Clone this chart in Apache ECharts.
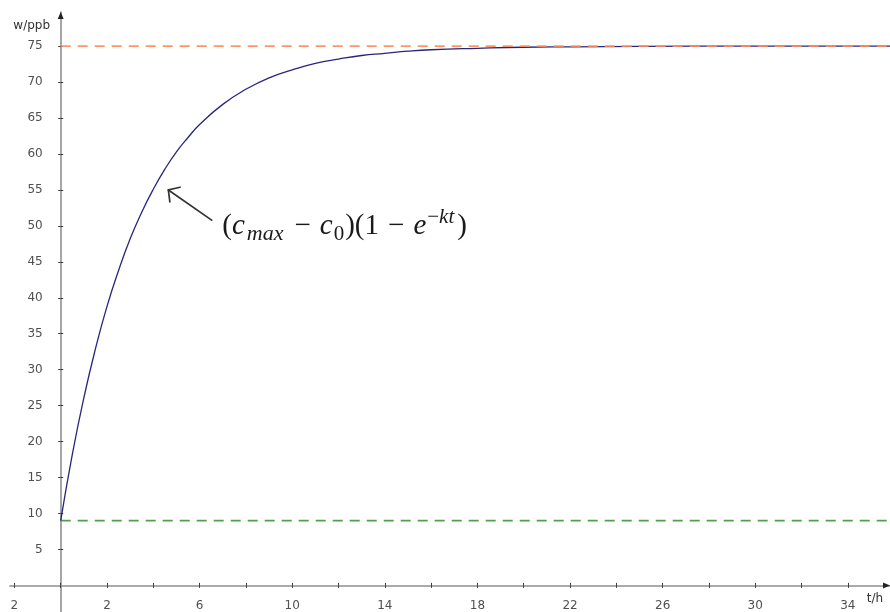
<!DOCTYPE html>
<html>
<head>
<meta charset="utf-8">
<script src="https://cdn.jsdelivr.net/npm/echarts@6/dist/echarts.min.js"></script>
<style>
  html, body { margin: 0; padding: 0; background: #ffffff; }
  #chart { width: 890px; height: 612px; }
</style>
</head>
<body>
<div id="chart"></div>
<script>
// ---- data ----
const tValues = [0, 0.5, 1, 1.5, 2, 2.5, 3, 3.5, 4, 4.5, 5, 5.5, 6, 7, 8, 9, 10, 11, 12, 13, 14, 15, 16, 18, 20, 22, 25, 30, 35.82];
const wValues = [9, 18.2, 26.1, 32.9, 38.8, 43.8, 48.2, 51.9, 55.1, 57.9, 60.3, 62.3, 64.1, 66.9, 69.0, 70.6, 71.7, 72.6, 73.2, 73.7, 74.0, 74.3, 74.5, 74.7, 74.85, 74.9, 74.96, 75, 75];
const cMax = 75;
const c0 = 9;
const xTickValues = [-2, 0, 2, 4, 6, 8, 10, 12, 14, 16, 18, 20, 22, 24, 26, 28, 30, 32, 34];
const xLabelValues = [-2, 2, 6, 10, 14, 18, 22, 26, 30, 34];
const xLabelTexts = ['2', '2', '6', '10', '14', '18', '22', '26', '30', '34'];
const yTickValues = [5, 10, 15, 20, 25, 30, 35, 40, 45, 50, 55, 60, 65, 70, 75];
const yLabelTexts = ['5', '10', '15', '20', '25', '30', '35', '40', '45', '50', '55', '60', '65', '70', '75'];
const xAxisName = 't/h';
const yAxisName = 'w/ppb';

// ---- view ranges ----
const X_MIN = -2.19, X_MAX = 35.82;
const Y_MIN = -3.70, Y_MAX = 79.75;

const chart = echarts.init(document.getElementById('chart'), null, { renderer: 'canvas' });

const AXIS_COLOR = '#8f8f8f';
const TICK_COLOR = '#3a3a3a';
const LABEL_FONT = '12px "DejaVu Sans"';
const LABEL_COLOR = '#505050';

function xAxisCfg(pos, main) {
  return {
    type: 'value', position: pos, min: X_MIN, max: X_MAX,
    axisLine: { show: main, onZero: true, lineStyle: { color: AXIS_COLOR, width: 1.6 } },
    axisTick: { show: true, inside: false, length: 2.5, customValues: xTickValues, lineStyle: { color: TICK_COLOR, width: 1 } },
    axisLabel: { show: false },
    splitLine: { show: false }
  };
}
function yAxisCfg(pos, main) {
  return {
    type: 'value', position: pos, min: Y_MIN, max: Y_MAX,
    axisLine: { show: main, onZero: true, lineStyle: { color: AXIS_COLOR, width: 1.6 } },
    axisTick: { show: true, inside: false, length: 2.5, customValues: yTickValues, lineStyle: { color: TICK_COLOR, width: 1 } },
    axisLabel: { show: false },
    splitLine: { show: false }
  };
}

const curveData = tValues.map((t, i) => [t, wValues[i]]);

chart.setOption({
  animation: false,
  backgroundColor: '#ffffff',
  grid: { left: 10, right: 0, top: 12, bottom: 0, containLabel: false, outerBoundsMode: 'none' },
  xAxis: [xAxisCfg('bottom', true), xAxisCfg('top', false)],
  yAxis: [yAxisCfg('left', true), yAxisCfg('right', false)],
  series: [
    {
      name: 'green', type: 'line', xAxisIndex: 0, yAxisIndex: 0,
      data: [[0, c0], [X_MAX, c0]], showSymbol: false, silent: true,
      lineStyle: { color: '#4f9f4f', width: 1.8, type: [10, 7] }, z: 2
    },
    {
      name: 'curve', type: 'line', xAxisIndex: 0, yAxisIndex: 0,
      data: curveData, smooth: 0.5, showSymbol: false, silent: true,
      lineStyle: { color: '#26267f', width: 1.3 }, z: 3
    },
    {
      name: 'orange', type: 'line', xAxisIndex: 0, yAxisIndex: 0,
      data: [[0, cMax], [X_MAX, cMax]], showSymbol: false, silent: true,
      lineStyle: { color: '#ff8a5c', width: 1.8, type: [10, 7], opacity: 0.9 }, z: 4
    }
  ]
});

// ---- overlay: tick labels, axis arrows, axis names, annotation ----
function px(pt) { return chart.convertToPixel({ xAxisIndex: 0, yAxisIndex: 0 }, pt); }

const graphics = [];
xLabelValues.forEach(function (v, i) {
  const p = px([v, 0]);
  graphics.push({ type: 'text', x: p[0], y: p[1] + 20, silent: true,
    style: { text: xLabelTexts[i], font: LABEL_FONT, fill: LABEL_COLOR, textAlign: 'center', textVerticalAlign: 'middle' }, z: 10 });
});
yTickValues.forEach(function (v, i) {
  const p = px([0, v]);
  graphics.push({ type: 'text', x: p[0] - 18, y: p[1], silent: true,
    style: { text: yLabelTexts[i], font: LABEL_FONT, fill: LABEL_COLOR, textAlign: 'right', textVerticalAlign: 'middle' }, z: 10 });
});

const xEnd = px([X_MAX, 0]);
graphics.push({ type: 'polygon', shape: { points: [[xEnd[0], xEnd[1]], [xEnd[0] - 7, xEnd[1] - 3], [xEnd[0] - 7, xEnd[1] + 3]] }, style: { fill: '#222' }, z: 10 });
const yEnd = px([0, Y_MAX]);
graphics.push({ type: 'polygon', shape: { points: [[yEnd[0], yEnd[1]], [yEnd[0] - 3, yEnd[1] + 7], [yEnd[0] + 3, yEnd[1] + 7]] }, style: { fill: '#222' }, z: 10 });
graphics.push({ type: 'text', x: yEnd[0] - 29, y: yEnd[1] + 14, style: { text: yAxisName, font: LABEL_FONT, fill: '#333', textAlign: 'center', textVerticalAlign: 'middle' }, z: 10 });
graphics.push({ type: 'text', x: xEnd[0] - 15, y: xEnd[1] + 13, style: { text: xAxisName, font: LABEL_FONT, fill: '#333', textAlign: 'center', textVerticalAlign: 'middle' }, z: 10 });

// annotation arrow
const tip = px([4.65, 55.0]);
const tail = px([6.52, 50.8]);
const ang = Math.atan2(tail[1] - tip[1], tail[0] - tip[0]);
const wing = 12, half = 48 * Math.PI / 180;
const w1 = [tip[0] + wing * Math.cos(ang - half), tip[1] + wing * Math.sin(ang - half)];
const w2 = [tip[0] + wing * Math.cos(ang + half), tip[1] + wing * Math.sin(ang + half)];
const arrowStyle = { stroke: '#333', lineWidth: 1.7, fill: null, lineCap: 'round' };
graphics.push({ type: 'line', shape: { x1: tail[0], y1: tail[1], x2: tip[0], y2: tip[1] }, style: arrowStyle, z: 10 });
graphics.push({ type: 'polyline', shape: { points: [w1, tip, w2] }, style: arrowStyle, z: 10 });

// formula text, laid out piece by piece
const S = 29, s = 21;
const FAM = '"Liberation Serif", "DejaVu Serif", serif';
const N = function (z) { return z + 'px ' + FAM; };
const I = function (z) { return 'italic ' + z + 'px ' + FAM; };
const pieces = [
  { t: '(', f: N(S), size: S, dy: 0, gap: 0 },
  { t: 'c', f: I(S), size: S, dy: 0, gap: 2 },
  { t: 'max', f: I(s + 1), size: s, dy: 5, gap: 11 },
  { t: '\u2212', f: N(S), size: S, dy: 0, gap: 9 },
  { t: 'c', f: I(S), size: S, dy: 0, gap: 1 },
  { t: '0', f: N(s), size: s, dy: 5, gap: 1 },
  { t: ')(1', f: N(S), size: S, dy: 0, gap: 9 },
  { t: '\u2212', f: N(S), size: S, dy: 0, gap: 9 },
  { t: 'e', f: I(S), size: S, dy: 0, gap: 1 },
  { t: '\u2212', f: N(s), size: s, dy: -12, gap: 0 },
  { t: 'kt', f: I(s), size: s, dy: -12, gap: 3 },
  { t: ')', f: N(S), size: S, dy: 0, gap: 0 }
];
const ctx = document.createElement('canvas').getContext('2d');
const anchor = px([6.98, 48.6]);
let cx = anchor[0];
pieces.forEach(function (p) {
  ctx.font = p.f;
  const w = ctx.measureText(p.t).width;
  graphics.push({
    type: 'text', x: cx, y: anchor[1] + p.dy - 0.32 * p.size,
    style: { text: p.t, font: p.f, fill: '#1a1a1a', textAlign: 'left', textVerticalAlign: 'middle' }, z: 10
  });
  cx += w + p.gap;
});

chart.setOption({ graphic: graphics });
</script>
</body>
</html>
